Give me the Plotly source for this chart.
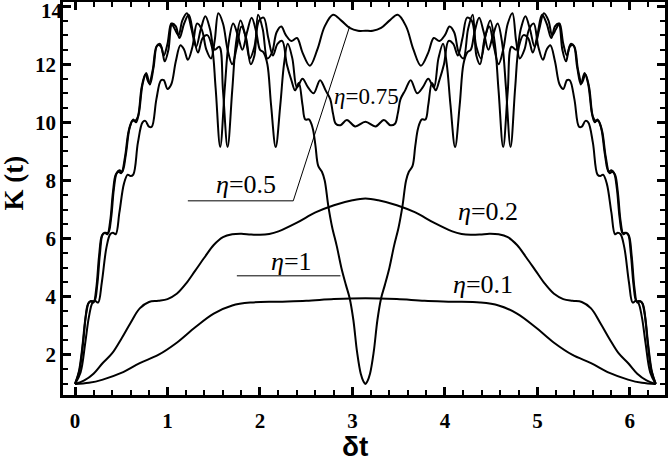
############################################ IMPORT STATEMENTS
import plotly.graph_objects as go

############################################ DATA
t_eta01 = [0.00, 0.15, 0.30, 0.50, 0.70, 0.90, 1.10, 1.30, 1.50, 1.70, 1.90, 2.20, 2.50, 2.80, 3.14,
           3.48, 3.78, 4.08, 4.38, 4.58, 4.78, 4.98, 5.18, 5.38, 5.58, 5.78, 5.98, 6.13, 6.28]
k_eta01 = [1.00, 1.04, 1.15, 1.38, 1.72, 2.00, 2.42, 2.95, 3.42, 3.70, 3.80, 3.83, 3.86, 3.92, 3.95,
           3.92, 3.86, 3.83, 3.80, 3.70, 3.42, 2.95, 2.42, 2.00, 1.72, 1.38, 1.15, 1.04, 1.00]

t_eta02 = [0.00, 0.10, 0.20, 0.30, 0.40, 0.50, 0.60, 0.70, 0.80, 0.90, 1.00, 1.10, 1.20, 1.30, 1.40,
           1.50, 1.60, 1.70, 1.80, 1.90, 2.00, 2.10, 2.20, 2.40, 2.60, 2.80, 3.00, 3.14,
           3.28, 3.48, 3.68, 3.88, 4.08, 4.18, 4.28, 4.38, 4.48, 4.58, 4.68, 4.78, 4.88, 4.98,
           5.08, 5.18, 5.28, 5.38, 5.48, 5.58, 5.68, 5.78, 5.88, 5.98, 6.08, 6.18, 6.28]
k_eta02 = [1.00, 1.12, 1.35, 1.72, 2.05, 2.55, 3.10, 3.60, 3.82, 3.86, 3.92, 4.10, 4.45, 4.90, 5.35,
           5.78, 6.05, 6.15, 6.17, 6.14, 6.13, 6.16, 6.25, 6.55, 6.90, 7.15, 7.32, 7.38,
           7.32, 7.15, 6.90, 6.55, 6.25, 6.16, 6.13, 6.14, 6.17, 6.15, 6.05, 5.78, 5.35, 4.90,
           4.45, 4.10, 3.92, 3.86, 3.82, 3.60, 3.10, 2.55, 2.05, 1.72, 1.35, 1.12, 1.00]

t_eta05 = [0.00, 0.06, 0.11, 0.15, 0.19, 0.22, 0.25, 0.29, 0.34, 0.38, 0.41, 0.44, 0.48, 0.53, 0.57,
           0.60, 0.63, 0.68, 0.73, 0.76, 0.80, 0.83, 0.88, 0.93, 0.96, 1.00, 1.04, 1.09, 1.14, 1.18,
           1.22, 1.27, 1.32, 1.37, 1.42, 1.47, 1.51, 1.55, 1.60, 1.65, 1.70, 1.75, 1.80, 1.85, 1.90,
           1.94, 1.98, 2.03, 2.08, 2.13, 2.18, 2.23, 2.28, 2.34, 2.40, 2.46, 2.54, 2.62, 2.70, 2.79,
           2.88, 2.97, 3.06, 3.14,
           3.22, 3.31, 3.40, 3.49, 3.58, 3.66, 3.74, 3.82, 3.88, 3.94, 4.00, 4.05, 4.10, 4.15, 4.20,
           4.25, 4.30, 4.34, 4.38, 4.43, 4.48, 4.53, 4.58, 4.63, 4.68, 4.73, 4.77, 4.81, 4.86, 4.91,
           4.96, 5.01, 5.06, 5.10, 5.14, 5.19, 5.24, 5.28, 5.32, 5.35, 5.40, 5.45, 5.48, 5.52, 5.55,
           5.60, 5.65, 5.68, 5.71, 5.75, 5.80, 5.84, 5.87, 5.90, 5.94, 5.99, 6.03, 6.06, 6.09, 6.13,
           6.17, 6.22, 6.28]
k_eta05 = [1.00, 1.40, 2.40, 3.30, 3.80, 3.85, 3.80, 4.50, 5.70, 6.15, 6.20, 6.15, 6.90, 7.90, 8.20,
           8.15, 8.20, 9.30, 10.00, 10.05, 9.85, 9.85, 10.80, 11.45, 11.45, 11.15, 11.30, 12.10, 12.65, 12.50,
           12.15, 12.60, 13.40, 13.20, 12.50, 12.20, 12.80, 13.75, 13.40, 12.50, 12.00, 12.60, 13.30, 12.90, 12.00,
           12.30, 13.70, 13.20, 12.20, 12.40, 13.10, 13.30, 13.00, 12.80, 12.90, 12.40, 11.95, 12.50, 13.30, 13.70,
           13.50, 13.25, 13.15, 13.15,
           13.15, 13.25, 13.50, 13.70, 13.30, 12.50, 11.95, 12.40, 12.90, 12.80, 13.00, 13.30, 13.10, 12.40, 12.20,
           13.20, 13.70, 12.30, 12.00, 12.90, 13.30, 12.60, 12.00, 12.50, 13.40, 13.75, 12.80, 12.20, 12.50, 13.20,
           13.40, 12.60, 12.15, 12.50, 12.65, 12.10, 11.30, 11.15, 11.45, 11.45, 10.80, 9.85, 9.85, 10.05, 10.00,
           9.30, 8.20, 8.15, 8.20, 7.90, 6.90, 6.15, 6.20, 6.15, 5.70, 4.50, 3.80, 3.85, 3.80, 3.30,
           2.40, 1.40, 1.00]

t_eta075 = [0.00, 0.05, 0.09, 0.12, 0.15, 0.18, 0.21, 0.24, 0.27, 0.30, 0.33, 0.36, 0.39, 0.42, 0.45,
            0.48, 0.51, 0.55, 0.59, 0.63, 0.66, 0.69, 0.73, 0.77, 0.81, 0.85, 0.89, 0.93, 0.97, 1.01,
            1.05, 1.09, 1.13, 1.18, 1.23, 1.28, 1.33, 1.38, 1.43, 1.48, 1.52, 1.57, 1.62, 1.66, 1.71,
            1.76, 1.81, 1.86, 1.91, 1.96, 2.00, 2.04, 2.08, 2.12, 2.17, 2.22, 2.26, 2.30, 2.35, 2.40,
            2.46, 2.52, 2.58, 2.65, 2.71, 2.76, 2.79, 2.82, 2.87, 2.94, 3.03, 3.14,
            3.25, 3.34, 3.41, 3.46, 3.49, 3.52, 3.57, 3.63, 3.70, 3.76, 3.82, 3.88, 3.93, 3.98, 4.02,
            4.06, 4.11, 4.16, 4.20, 4.24, 4.28, 4.32, 4.37, 4.42, 4.47, 4.52, 4.57, 4.62, 4.66, 4.71,
            4.76, 4.80, 4.85, 4.90, 4.95, 5.00, 5.05, 5.10, 5.15, 5.19, 5.23, 5.27, 5.31, 5.35, 5.39,
            5.43, 5.47, 5.51, 5.55, 5.59, 5.62, 5.65, 5.69, 5.73, 5.77, 5.80, 5.83, 5.86, 5.89, 5.92,
            5.95, 5.98, 6.01, 6.04, 6.07, 6.10, 6.13, 6.16, 6.19, 6.23, 6.28]
k_eta075 = [1.00, 1.50, 2.50, 3.40, 3.80, 3.85, 3.85, 4.40, 5.50, 6.15, 6.20, 6.20, 6.70, 7.70, 8.25,
            8.35, 8.30, 8.90, 9.80, 10.10, 10.00, 10.30, 11.30, 11.70, 11.30, 11.90, 12.65, 12.60, 12.10, 12.50,
            13.40, 13.30, 12.90, 13.40, 13.70, 13.00, 12.40, 12.90, 13.00, 12.60, 11.20, 9.15, 11.20, 12.70, 13.40,
            13.00, 12.50, 13.10, 13.60, 13.10, 12.50, 12.40, 12.00, 10.60, 9.15, 10.60, 12.00, 12.70, 12.20, 11.20,
            11.50, 11.20, 11.00, 11.45, 11.10, 10.80, 10.30, 9.95, 9.90, 10.08, 9.86, 10.02,
            9.86, 10.08, 9.90, 9.95, 10.30, 10.80, 11.10, 11.45, 11.00, 11.20, 11.50, 11.20, 12.20, 12.70, 12.00,
            10.60, 9.15, 10.60, 12.00, 12.40, 12.50, 13.10, 13.60, 13.10, 12.50, 13.00, 13.40, 12.70, 11.20, 9.15,
            11.20, 12.60, 13.00, 12.90, 12.40, 13.00, 13.70, 13.40, 12.90, 13.30, 13.40, 12.50, 12.10, 12.60, 12.65,
            11.90, 11.30, 11.70, 11.30, 10.30, 10.00, 10.10, 9.80, 8.90, 8.30, 8.35, 8.25, 7.70, 6.70, 6.20,
            6.20, 6.15, 5.50, 4.40, 3.85, 3.85, 3.80, 3.40, 2.50, 1.50, 1.00]

t_eta1 = [0.00, 0.04, 0.08, 0.11, 0.14, 0.17, 0.20, 0.23, 0.26, 0.29, 0.32, 0.35, 0.38, 0.41, 0.44,
          0.47, 0.50, 0.54, 0.58, 0.62, 0.65, 0.68, 0.72, 0.76, 0.80, 0.84, 0.88, 0.92, 0.96, 1.00,
          1.04, 1.08, 1.12, 1.16, 1.21, 1.26, 1.31, 1.36, 1.41, 1.46, 1.51, 1.56, 1.60, 1.65, 1.70,
          1.74, 1.79, 1.84, 1.89, 1.94, 1.99, 2.04, 2.09, 2.14, 2.19, 2.24, 2.29, 2.34, 2.38, 2.42,
          2.46, 2.49, 2.53, 2.57, 2.60, 2.63, 2.67, 2.70, 2.74, 2.78, 2.83, 2.88, 2.93, 2.97, 3.01,
          3.05, 3.09, 3.12, 3.14,
          3.16, 3.19, 3.23, 3.27, 3.31, 3.35, 3.40, 3.45, 3.50, 3.54, 3.58, 3.61, 3.65, 3.68, 3.71,
          3.75, 3.79, 3.82, 3.86, 3.90, 3.94, 3.99, 4.04, 4.09, 4.14, 4.19, 4.24, 4.29, 4.34, 4.39,
          4.44, 4.49, 4.54, 4.58, 4.63, 4.68, 4.72, 4.77, 4.82, 4.87, 4.92, 4.97, 5.02, 5.07, 5.12,
          5.16, 5.20, 5.24, 5.28, 5.32, 5.36, 5.40, 5.44, 5.48, 5.52, 5.56, 5.60, 5.63, 5.66, 5.70,
          5.74, 5.78, 5.81, 5.84, 5.87, 5.90, 5.93, 5.96, 5.99, 6.02, 6.05, 6.08, 6.11, 6.14, 6.17,
          6.20, 6.24, 6.28]
k_eta1 = [1.00, 1.40, 2.30, 3.20, 3.75, 3.85, 3.80, 4.30, 5.40, 6.10, 6.20, 6.15, 6.60, 7.60, 8.20,
          8.30, 8.25, 8.80, 9.70, 10.05, 10.05, 10.20, 11.20, 11.65, 11.35, 11.80, 12.60, 12.70, 12.30, 12.70,
          13.40, 13.20, 13.00, 13.50, 13.75, 13.20, 12.60, 13.20, 13.65, 13.20, 12.50, 12.60, 11.10, 9.15, 11.10,
          12.70, 13.50, 13.00, 12.20, 12.60, 13.50, 13.60, 12.90, 12.30, 12.70, 12.80, 12.00, 11.45, 11.10, 11.35,
          10.60, 10.10, 10.10, 9.80, 9.20, 8.50, 8.30, 8.00, 7.10, 6.40, 5.75, 5.00, 4.40, 3.95, 3.20,
          2.10, 1.35, 1.08, 1.00,
          1.08, 1.35, 2.10, 3.20, 3.95, 4.40, 5.00, 5.75, 6.40, 7.10, 8.00, 8.30, 8.50, 9.20, 9.80,
          10.10, 10.10, 10.60, 11.35, 11.10, 11.45, 12.00, 12.80, 12.70, 12.30, 12.90, 13.60, 13.50, 12.60, 12.20,
          13.00, 13.50, 12.70, 11.10, 9.15, 11.10, 12.60, 12.50, 13.20, 13.65, 13.20, 12.60, 13.20, 13.75, 13.50,
          13.00, 13.20, 13.40, 12.70, 12.30, 12.70, 12.60, 11.80, 11.35, 11.65, 11.20, 10.20, 10.05, 10.05, 9.70,
          8.80, 8.25, 8.30, 8.20, 7.60, 6.60, 6.15, 6.20, 6.10, 5.40, 4.30, 3.80, 3.85, 3.75, 3.20,
          2.30, 1.40, 1.00]

curves = [(t_eta01, k_eta01), (t_eta02, k_eta02), (t_eta05, k_eta05), (t_eta075, k_eta075), (t_eta1, k_eta1)]

x_ticks = [0, 1, 2, 3, 4, 5, 6]
y_ticks = [2, 4, 6, 8, 10, 12, 14]
y_text = ["2", "4", "6", "8", "10", "12", ""]   # the top label sits a little lower, see yaxis2

######################################### FIGURE
fig = go.Figure()
for t, k in curves:
    fig.add_trace(go.Scatter(x = t, y = k, mode = "lines",
                             line = dict(color = "black", width = 2, shape = "spline", smoothing = 1.0),
                             hoverinfo = "skip", showlegend = False))

# leader lines of the labels
fig.add_trace(go.Scatter(x = [1.75, 2.87], y = [4.72, 4.72], mode = "lines",
                         line = dict(color = "black", width = 1), showlegend = False))
fig.add_trace(go.Scatter(x = [1.22, 2.36, 2.97], y = [7.3, 7.3, 13.3], mode = "lines",
                         line = dict(color = "black", width = 1), showlegend = False))
# empty trace so the overlay axis carrying the "14" label is drawn
fig.add_trace(go.Scatter(x = [], y = [], yaxis = "y2", showlegend = False))

serif = "Liberation Serif, Times New Roman, serif"
labels = [("<i>η</i>=0.1", 4.41, 4.43, 26), ("<i>η</i>=0.2", 4.47, 6.95, 26),
          ("<i>η</i>=1", 2.34, 5.22, 26), ("<i>η</i>=0.5", 1.85, 7.87, 26),
          ("<i>η</i>=0.75", 3.15, 10.9, 23)]
for txt, x, y, size in labels:
    fig.add_annotation(x = x, y = y, text = txt, showarrow = False, xanchor = "center", yanchor = "middle",
                       font = dict(family = serif, size = size, color = "black"))

fig.add_annotation(xref = "paper", yref = "paper", x = -0.082, y = 0.54, text = "<b>K (t)</b>",
                   textangle = -90, showarrow = False, xanchor = "center", yanchor = "middle",
                   font = dict(family = serif, size = 27, color = "black"))
fig.add_annotation(xref = "paper", yref = "paper", x = 0.485, y = -0.13, text = "<b>δt</b>",
                   showarrow = False, xanchor = "center", yanchor = "middle",
                   font = dict(family = "Liberation Sans, Arial, sans-serif", size = 28, color = "black"))

tick_font = dict(family = serif, size = 21, color = "black", weight = "bold")
fig.update_layout(width = 671, height = 461, margin = dict(l = 63, r = 6, t = 2, b = 66),
                  plot_bgcolor = "white", paper_bgcolor = "white", showlegend = False)
fig.update_xaxes(range = [-0.13, 6.38], tickvals = x_ticks, ticks = "inside", ticklen = 8, tickwidth = 2.5,
                 tickcolor = "black", showline = True, linewidth = 2.5, linecolor = "black", mirror = "ticks",
                 showgrid = False, zeroline = False, tickfont = tick_font, automargin = False,
                 ticklabelstandoff = 5,
                 minor = dict(tick0 = 0, dtick = 0.2, ticks = "inside", ticklen = 5, tickwidth = 2, tickcolor = "black"))
fig.update_layout(
    yaxis = dict(range = [0.62, 14.14], tickvals = y_ticks, ticktext = y_text, ticks = "inside", ticklen = 8,
                 tickwidth = 2.5, tickcolor = "black", showline = True, linewidth = 2.5, linecolor = "black",
                 mirror = "ticks", showgrid = False, zeroline = False, tickfont = tick_font, automargin = False,
                 minor = dict(tick0 = 0, dtick = 0.5, ticks = "inside", ticklen = 5, tickwidth = 2, tickcolor = "black")),
    yaxis2 = dict(range = [0.62, 14.14], overlaying = "y", side = "left", tickvals = [14], ticktext = ["14"],
                  ticks = "", showline = False, showgrid = False, zeroline = False, tickfont = tick_font,
                  automargin = False, ticklabelshift = 5, ticklabeloverflow = "allow"))

# page body has a default margin, drop it so the figure sits at the window corner
fig.write_html("out.html", config = {"displayModeBar": False},
               post_script = "document.body.style.margin = '0px';")
